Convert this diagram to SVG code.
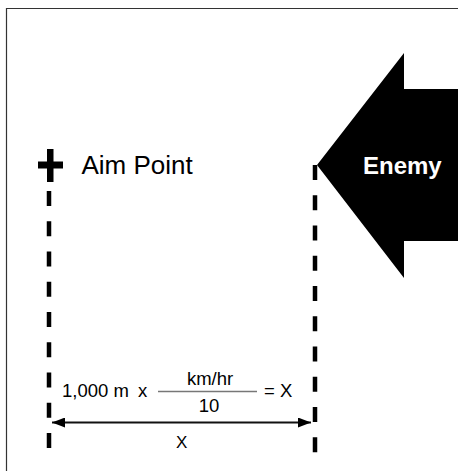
<svg xmlns="http://www.w3.org/2000/svg" width="458" height="471" viewBox="0 0 458 471">
  <style>
    .t { font-family: "Liberation Sans", Arial, sans-serif; fill: #000; }
    .dash { stroke: #000; stroke-width: 4.5; stroke-dasharray: 15 15.25; fill: none; }
    .dim { stroke: #111; stroke-width: 2; fill: none; }
  </style>
  <defs>
    <marker id="ah" viewBox="0 0 13 10" refX="13" refY="5" markerWidth="13" markerHeight="10" markerUnits="userSpaceOnUse" orient="auto-start-reverse">
      <path d="M0,0 L13,5 L0,10 Z" fill="#000"/>
    </marker>
  </defs>
  <rect x="0" y="0" width="458" height="471" fill="#fff"/>
  <path id="frame" d="M6.5,471 V8.5 H458" stroke="#333" stroke-width="1.2" fill="none"/>

  <g id="enemy">
    <polygon points="317,165 404,53 404,89 458,89 458,241 404,241 404,278" fill="#000"/>
    <text class="t" x="363" y="174" font-size="24" font-weight="bold" fill="#fff" style="fill:#fff">Enemy</text>
  </g>

  <g id="aim-point">
    <rect x="47" y="149" width="6.5" height="33" fill="#000"/>
    <rect x="38" y="161.5" width="25" height="7" fill="#000"/>
    <text class="t" x="81.5" y="174" font-size="26">Aim Point</text>
  </g>

  <g id="connectors">
    <line class="dash" x1="49" y1="191" x2="49" y2="449"/>
    <line class="dash" x1="315" y1="165" x2="315" y2="453"/>
    <line class="dim" x1="52" y1="422.5" x2="311" y2="422.5" marker-start="url(#ah)" marker-end="url(#ah)"/>
  </g>

  <g id="formula">
    <text class="t" x="62" y="396.7" font-size="18.5">1,000 m</text>
    <text class="t" x="138" y="396.7" font-size="18.5">x</text>
    <line x1="158" y1="391.5" x2="257" y2="391.5" stroke="#777" stroke-width="1.5"/>
    <text class="t" x="210" y="385" font-size="18.5" text-anchor="middle">km/hr</text>
    <text class="t" x="209" y="411.7" font-size="18.5" text-anchor="middle">10</text>
    <text class="t" x="264" y="396.7" font-size="18.5">= X</text>
    <text class="t" x="181.7" y="448.3" font-size="17" text-anchor="middle">X</text>
  </g>
</svg>
